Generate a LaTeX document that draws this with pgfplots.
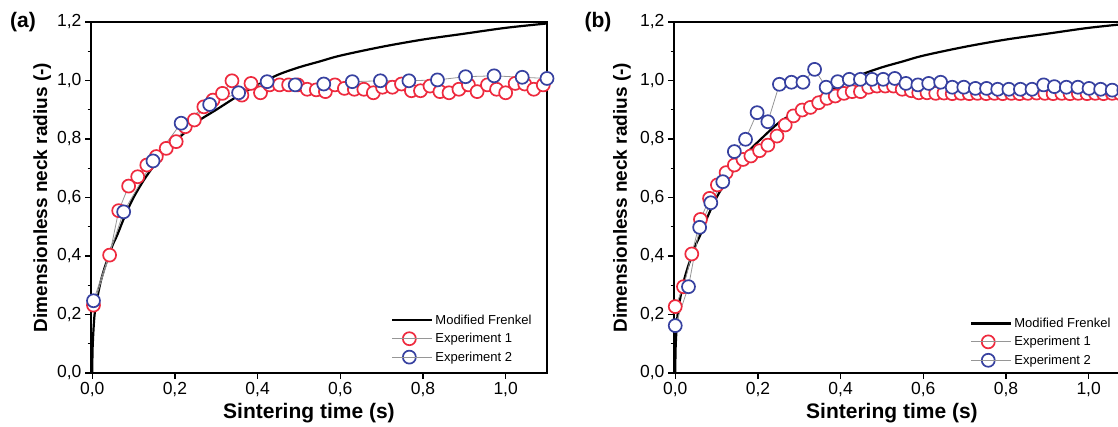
\documentclass[border=0pt]{standalone}
\usepackage{fontspec}
\setmainfont{Liberation Sans}
\usepackage{pgfplots}
\usepackage{pgfplotstable}
\pgfplotsset{compat=1.18}
\definecolor{expred}{RGB}{238,42,62}
\definecolor{expblue}{RGB}{55,65,160}
\definecolor{linegray}{RGB}{150,150,150}

\pgfplotstableread{
t y
0 0
0.001 0.09
0.005 0.19
0.01 0.24
0.02 0.31
0.03 0.36
0.04 0.40
0.05 0.44
0.06 0.47
0.08 0.54
0.10 0.60
0.125 0.66
0.15 0.71
0.175 0.755
0.2 0.79
0.25 0.855
0.3 0.90
0.35 0.945
0.4 0.985
0.45 1.02
0.5 1.045
0.55 1.065
0.6 1.085
0.7 1.115
0.8 1.14
0.9 1.16
1.0 1.18
1.1 1.195
}\frenkel

\pgfplotstableread{
t y
0.003 0.232
0.042 0.403
0.064 0.555
0.088 0.639
0.110 0.671
0.132 0.711
0.155 0.740
0.179 0.768
0.203 0.791
0.225 0.842
0.247 0.865
0.270 0.910
0.292 0.933
0.315 0.956
0.338 0.999
0.362 0.950
0.384 0.990
0.407 0.958
0.429 0.985
0.453 0.985
0.475 0.985
0.497 0.985
0.520 0.970
0.542 0.968
0.564 0.962
0.587 0.985
0.610 0.973
0.634 0.970
0.657 0.970
0.680 0.958
0.702 0.977
0.726 0.977
0.748 0.988
0.772 0.965
0.794 0.965
0.817 0.981
0.841 0.962
0.863 0.958
0.887 0.970
0.910 0.985
0.931 0.962
0.956 0.985
0.978 0.970
1.000 0.958
1.023 0.990
1.046 0.988
1.068 0.970
1.091 0.985
}\expAone

\pgfplotstableread{
t y
0.003 0.247
0.076 0.551
0.147 0.725
0.215 0.854
0.284 0.918
0.354 0.958
0.423 0.996
0.491 0.985
0.560 0.988
0.629 0.996
0.697 0.999
0.766 0.999
0.835 1.002
0.903 1.013
0.972 1.016
1.040 1.011
1.100 1.007
}\expAtwo

\pgfplotstableread{
t y
0.000 0.227
0.020 0.295
0.040 0.407
0.061 0.525
0.083 0.597
0.102 0.643
0.123 0.685
0.143 0.711
0.164 0.730
0.183 0.742
0.204 0.760
0.224 0.779
0.246 0.810
0.266 0.848
0.286 0.879
0.307 0.899
0.327 0.908
0.347 0.924
0.367 0.939
0.387 0.947
0.408 0.956
0.428 0.962
0.448 0.962
0.468 0.977
0.488 0.981
0.508 0.981
0.528 0.981
0.549 0.970
0.571 0.965
0.589 0.958
0.609 0.958
0.630 0.956
0.650 0.957
0.670 0.955
0.691 0.956
0.711 0.955
0.731 0.956
0.752 0.955
0.772 0.956
0.792 0.955
0.813 0.956
0.833 0.955
0.853 0.956
0.874 0.957
0.894 0.956
0.914 0.955
0.935 0.956
0.955 0.955
0.975 0.956
0.996 0.955
1.016 0.956
1.036 0.955
1.057 0.956
1.077 0.955
1.097 0.955
}\expBone

\pgfplotstableread{
t y
0.000 0.162
0.032 0.295
0.059 0.498
0.086 0.582
0.115 0.654
0.143 0.757
0.170 0.799
0.198 0.890
0.224 0.859
0.252 0.987
0.281 0.994
0.309 0.994
0.337 1.038
0.365 0.977
0.393 0.996
0.421 1.004
0.448 1.004
0.476 1.004
0.503 1.004
0.531 1.007
0.558 0.990
0.587 0.985
0.613 0.990
0.642 0.994
0.670 0.977
0.698 0.977
0.726 0.973
0.753 0.973
0.780 0.970
0.807 0.970
0.835 0.970
0.863 0.970
0.891 0.985
0.917 0.979
0.946 0.977
0.974 0.977
1.001 0.973
1.029 0.970
1.057 0.967
1.085 0.967
}\expBtwo

\pgfplotsset{
  panel/.style={
    scale only axis, width=456pt, height=351pt,
    xmin=-0.003, xmax=1.1, ymin=0, ymax=1.2,
    xtick={0,0.2,0.4,0.6,0.8,1.0},
    ytick={0,0.2,0.4,0.6,0.8,1.0,1.2},
    minor y tick num=1,
    tick align=outside, tick pos=left,
    major tick length=6pt, minor tick length=3.5pt,
    every tick/.style={black, line width=1.2pt},
    axis line style={line width=1.4pt},
    /pgf/number format/.cd, use comma, fixed, fixed zerofill, precision=1, assume math mode=true,
    /pgfplots/.cd,
    tick label style={font=\fontsize{17.5}{19}\selectfont},
    x label style={font=\fontsize{21}{24}\bfseries\selectfont},
    y label style={font=\fontsize{19}{22}\bfseries\selectfont},
    xlabel={Sintering time (s)},
    ylabel={Dimensionless neck radius (-)},
    x label style={at={(axis description cs:0.478,-0.114)}, anchor=center},
    legend cell align=left,
    legend style={draw=none, fill=none, font=\fontsize{13}{15}\selectfont, row sep=3.5pt, inner sep=0pt},
    legend image code/.code={\draw[mark repeat=2,mark phase=2,##1] plot coordinates {(0pt,0pt) (17pt,0pt) (34pt,0pt)};
      \path (0pt,0pt) -- (40pt,0pt);},
    clip=false,
  },
  frk/.style={black, line width=2.2pt, no marks, smooth},
  exone/.style={linegray, line width=0.8pt, mark=*, mark size=6.5pt, mark options={draw=expred, fill=white, line width=1.7pt}},
  extwo/.style={linegray, line width=0.8pt, mark=*, mark size=6.5pt, mark options={draw=expblue, fill=white, line width=1.7pt}},
}

\begin{document}
\begin{tikzpicture}
\begin{axis}[panel, at={(91pt,54pt)}, anchor=south west,
  y label style={at={(axis description cs:-0.107,0.5)}, anchor=center, rotate=0},
  legend style={at={(axis description cs:0.658,0.172)}, anchor=north west}]
  \addplot[frk] table[x=t,y=y] {\frenkel};
  \addlegendentry{Modified Frenkel}
  \addplot[exone] table[x=t,y=y] {\expAone};
  \addlegendentry{Experiment 1}
  \addplot[extwo] table[x=t,y=y] {\expAtwo};
  \addlegendentry{Experiment 2}
\end{axis}
\begin{axis}[panel, at={(674pt,54pt)}, anchor=south west,
  y label style={at={(axis description cs:-0.114,0.5)}, anchor=center, rotate=0},
  legend style={at={(axis description cs:0.649,0.163)}, anchor=north west}]
  \addplot[frk] table[x=t,y=y] {\frenkel};
  \addlegendentry{Modified Frenkel}
  \addplot[exone] table[x=t,y=y] {\expBone};
  \addlegendentry{Experiment 1}
  \addplot[extwo] table[x=t,y=y] {\expBtwo};
  \addlegendentry{Experiment 2}
\end{axis}
\node[font=\fontsize{21}{24}\bfseries\selectfont] at (23pt,405pt) {(a)};
\node[font=\fontsize{21}{24}\bfseries\selectfont] at (598pt,405pt) {(b)};
\pgfresetboundingbox
\path (0pt,0pt) rectangle (1118pt,427pt);
\end{tikzpicture}
\end{document}
